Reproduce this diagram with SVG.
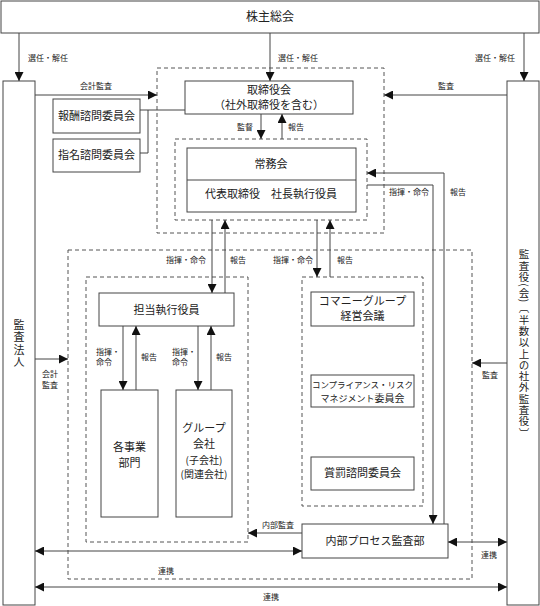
<svg xmlns="http://www.w3.org/2000/svg" width="540" height="606" viewBox="0 0 540 606">
<defs>
<marker id="ah" markerUnits="userSpaceOnUse" markerWidth="9" markerHeight="9" refX="9" refY="4.5" orient="auto-start-reverse"><path d="M0,0 L9,4.5 L0,9 z" fill="#111"/></marker>
<style>
text{font-family:"Noto Sans CJK JP","Noto Sans",sans-serif;fill:#222}
.box{fill:#fff;stroke:#444;stroke-width:1}
.dash{fill:none;stroke:#555;stroke-width:1;stroke-dasharray:4 3}
.ln{fill:none;stroke:#444;stroke-width:1}
.ar{fill:none;stroke:#444;stroke-width:1;marker-end:url(#ah)}
.bi{fill:none;stroke:#444;stroke-width:1;marker-end:url(#ah);marker-start:url(#ah)}
.t12{font-size:12px;text-anchor:middle}
.t11{font-size:11px;text-anchor:middle}
.t10{font-size:10px;text-anchor:middle}
.s{font-size:8px}
.sm{font-size:8px;text-anchor:middle}
.v{writing-mode:vertical-rl;text-orientation:mixed;text-anchor:middle}
</style>
</defs>

<g id="dashed-groups">
<rect class="dash" x="157" y="68" width="227" height="165"/>
<rect class="dash" x="175" y="139" width="192" height="81"/>
<rect class="dash" x="68" y="250" width="404" height="329"/>
<rect class="dash" x="86" y="277" width="162" height="265"/>
<rect class="dash" x="302" y="277" width="121" height="229"/>
</g>

<g id="n-shareholders"><rect class="box" x="1" y="1" width="538" height="32"/><text class="t12" x="270" y="21">株主総会</text></g>
<g id="n-auditfirm"><rect class="box" x="3" y="81" width="32" height="524"/><text class="v" x="19" y="344" font-size="11" letter-spacing="1.5">監査法人</text></g>
<g id="n-auditors"><rect class="box" x="507" y="81" width="32" height="524"/><text class="v" x="524" y="344" font-size="10.5" letter-spacing="0.8">監査役(会)〔半数以上の社外監査役〕</text></g>
<g id="n-board"><rect class="box" x="185" y="81" width="168" height="33"/><text class="t11" x="269" y="94" font-size="10.5">取締役会<tspan x="269" dy="15.4">（社外取締役を含む）</tspan></text></g>
<g id="n-remuneration"><rect class="box" x="53" y="99" width="87" height="34"/><text class="t11" x="96.5" y="120">報酬諮問委員会</text></g>
<g id="n-nomination"><rect class="box" x="53" y="139" width="87" height="33"/><text class="t11" x="96.5" y="159">指名諮問委員会</text></g>
<g id="n-executive"><rect class="box" x="187" y="148" width="169" height="64"/><line class="ln" x1="187" y1="180" x2="356" y2="180"/><text class="t11" x="271" y="168">常務会</text><text class="t11" x="271" y="198">代表取締役　社長執行役員</text></g>
<g id="n-officers"><rect class="box" x="99" y="293" width="135" height="33"/><text class="t11" x="166.5" y="314">担当執行役員</text></g>
<g id="n-divisions"><rect class="box" x="101" y="390" width="57" height="127"/><text class="t11" x="129.5" y="451">各事業<tspan x="129.5" dy="16">部門</tspan></text></g>
<g id="n-groupco"><rect class="box" x="176" y="390" width="56" height="127"/><text class="t11" x="204" y="432">グループ<tspan x="204" dy="16">会社</tspan><tspan x="204" dy="15.5" font-size="10">(子会社)</tspan><tspan x="204" dy="14.6" font-size="10">(関連会社)</tspan></text></g>
<g id="n-mgmt"><rect class="box" x="311" y="292" width="103" height="34"/><text class="t11" x="362.5" y="305" font-size="10.5">コマニーグループ<tspan x="362.5" dy="15.4">経営会議</tspan></text></g>
<g id="n-compliance"><rect class="box" x="311" y="375" width="103" height="32"/><text class="t10" x="362.5" y="387.5"><tspan font-size="8.5">コンプライアンス・リスク</tspan><tspan x="362.5" dy="14.5" font-size="9">マネジメント</tspan>委員会</text></g>
<g id="n-rewards"><rect class="box" x="311" y="457" width="103" height="33"/><text class="t11" x="362.5" y="477">賞罰諮問委員会</text></g>
<g id="n-internalaudit"><rect class="box" x="302" y="524" width="146" height="34"/><text class="t11" x="375" y="545">内部プロセス監査部</text></g>

<g id="connectors">
<line class="ar" x1="19" y1="33" x2="19" y2="81"/>
<line class="ar" x1="270" y1="33" x2="270" y2="81"/>
<line class="ar" x1="524" y1="33" x2="524" y2="81"/>
<line class="ar" x1="35" y1="95" x2="157" y2="95"/>
<line class="ar" x1="507" y1="95" x2="384" y2="95"/>
<polyline class="ln" points="140,110 185,110"/>
<polyline class="ln" points="140,153 148,153 148,110"/>
<line class="ar" x1="261" y1="114" x2="261" y2="139"/>
<line class="ar" x1="282" y1="139" x2="282" y2="114"/>
<line class="ar" x1="212" y1="220" x2="212" y2="293"/>
<line class="ar" x1="225" y1="293" x2="225" y2="220"/>
<line class="ar" x1="317" y1="220" x2="317" y2="277"/>
<line class="ar" x1="330" y1="277" x2="330" y2="220"/>
<polyline class="ar" points="367,185 433,185 433,524"/>
<polyline class="ar" points="444,524 444,173 367,173"/>
<line class="ar" x1="123" y1="326" x2="123" y2="390"/>
<line class="ar" x1="136" y1="390" x2="136" y2="326"/>
<line class="ar" x1="198" y1="326" x2="198" y2="390"/>
<line class="ar" x1="211" y1="390" x2="211" y2="326"/>
<line class="ar" x1="35" y1="359" x2="68" y2="359"/>
<line class="ar" x1="507" y1="363" x2="472" y2="363"/>
<line class="ar" x1="302" y1="533" x2="248" y2="533"/>
<line class="bi" x1="35" y1="551" x2="302" y2="551"/>
<line class="bi" x1="448" y1="542" x2="507" y2="542"/>
<line class="bi" x1="35" y1="587" x2="507" y2="587"/>

<text class="s" x="28" y="61">選任・解任</text>
<text class="s" x="278" y="61">選任・解任</text>
<text class="s" x="475" y="61">選任・解任</text>
<text class="s" x="80" y="89">会計監査</text>
<text class="s" x="438" y="89">監査</text>
<text class="s" x="237" y="130">監督</text>
<text class="s" x="288" y="130">報告</text>
<text class="s" x="166" y="263">指揮・命令</text>
<text class="s" x="230" y="263">報告</text>
<text class="s" x="273" y="263">指揮・命令</text>
<text class="s" x="337" y="263">報告</text>
<text class="s" x="389" y="195">指揮・命令</text>
<text class="s" x="450" y="195">報告</text>
<text class="s" x="96" y="355">指揮・<tspan x="96" dy="10">命令</tspan></text>
<text class="s" x="141" y="360">報告</text>
<text class="s" x="172" y="355">指揮・<tspan x="172" dy="10">命令</tspan></text>
<text class="s" x="216" y="360">報告</text>
<text class="sm" x="50" y="377">会計<tspan x="50" dy="11">監査</tspan></text>
<text class="s" x="482" y="378">監査</text>
<text class="s" x="262" y="528">内部監査</text>
<text class="s" x="158" y="574">連携</text>
<text class="s" x="481" y="558">連携</text>
<text class="s" x="263" y="600">連携</text>
</g>
</svg>
